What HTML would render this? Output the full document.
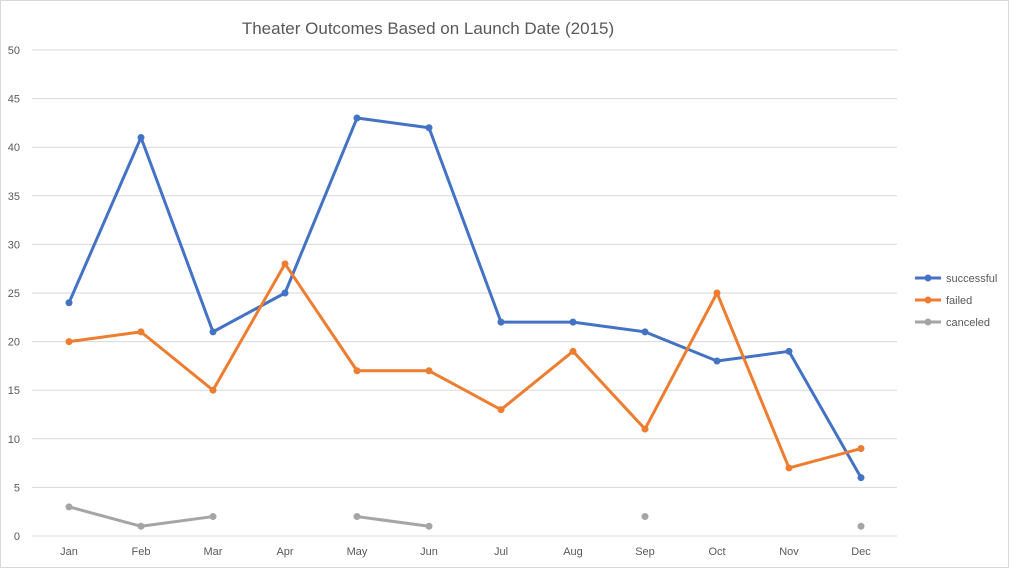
<!DOCTYPE html>
<html><head><meta charset="utf-8"><style>
body{margin:0;background:#fff;width:1025px;height:582px;overflow:hidden;font-family:"Liberation Sans",sans-serif}
</style></head><body>
<svg width="1025" height="582">
<rect x="0.5" y="0.5" width="1008" height="567" fill="#fff" stroke="#d9d9d9"/>
<text x="428" y="34" text-anchor="middle" font-size="17" fill="#595959">Theater Outcomes Based on Launch Date (2015)</text>
<g id="grid"></g><g id="series"></g><g id="legend"></g>
</svg>
<script>
const months=["Jan","Feb","Mar","Apr","May","Jun","Jul","Aug","Sep","Oct","Nov","Dec"];
const yTicks=[0,5,10,15,20,25,30,35,40,45,50];
const successful=[24,41,21,25,43,42,22,22,21,18,19,6];
const failed=[20,21,15,28,17,17,13,19,11,25,7,9];
const canceled=[3,1,2,null,2,1,null,null,2,null,null,1];
const NS="http://www.w3.org/2000/svg";
const x=i=>69+i*72, y=v=>536-v*9.72;
function mk(tag,attrs,parent){const e=document.createElementNS(NS,tag);for(const k in attrs)e.setAttribute(k,attrs[k]);parent.appendChild(e);return e;}
const g=document.getElementById('grid');
yTicks.forEach(t=>{
 const l=mk('line',{x1:32,x2:897,y1:y(t),y2:y(t),stroke:'#d9d9d9'},g);
 
 
 const tx=mk('text',{x:20,y:y(t)+4,'text-anchor':'end','font-size':11,fill:'#595959'},g);
 tx.textContent=t;
 
 
});
months.forEach((m,i)=>{
 const tx=mk('text',{x:x(i),y:555,'text-anchor':'middle','font-size':11,fill:'#595959'},g);
 tx.textContent=m;
 
 
});
const s=document.getElementById('series');
const series=[["successful",successful,"#4472c4"],["failed",failed,"#ed7d31"],["canceled",canceled,"#a5a5a5"]];
series.forEach(([name,vals,c])=>{
 let d="",pen=false;
 vals.forEach((v,i)=>{if(v==null){pen=false;return;}d+=(pen?"L":"M")+x(i)+" "+y(v)+" ";pen=true;});
 const p=mk('path',{d:d,fill:'none',stroke:c,'stroke-width':3,'stroke-linejoin':'round'},s);
 
 
 vals.forEach((v,i)=>{if(v==null)return;
  const ci=mk('circle',{cx:x(i),cy:y(v),r:3.5,fill:c},s);
  
  
 });
});
const lg=document.getElementById('legend');
series.forEach(([name,vals,c],k)=>{
 const yy=278+k*22;
 const gi=mk('g',{},lg);
 
 
 mk('line',{x1:915,x2:941,y1:yy,y2:yy,stroke:c,'stroke-width':3},gi);
 mk('circle',{cx:928,cy:yy,r:3.5,fill:c},gi);
 const t=mk('text',{x:946,y:yy+4,'font-size':11,fill:'#595959'},gi);t.textContent=name;
});
</script>
</body></html>
